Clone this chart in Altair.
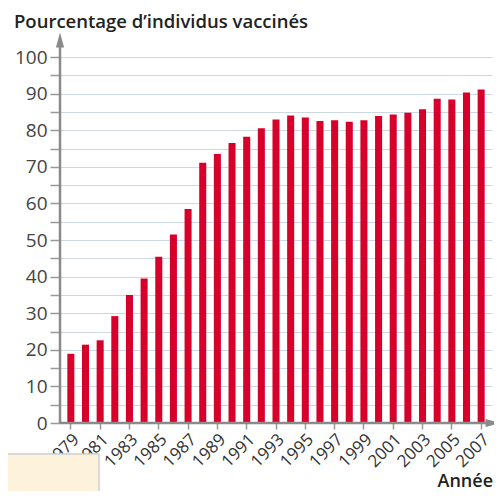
import altair as alt
import pandas as pd

years = list(range(1979, 2008))
values = [18.9, 21.4, 22.6, 29.2, 35.0, 39.5, 45.4, 51.5, 58.5, 71.1,
          73.5, 76.5, 78.2, 80.5, 82.9, 84.0, 83.5, 82.5, 82.7, 82.3,
          82.7, 83.9, 84.3, 84.8, 85.7, 88.6, 88.4, 90.3, 91.1]
x_tick_years = list(range(1979, 2008, 2))
y_ticks = list(range(0, 101, 5))
title_text = "Pourcentage d\u2019individus vaccinés"
x_title_text = "Année"

df = pd.DataFrame({"annee": years, "pct": values})
one = alt.Data(values=[{}])

FONT = "Open Sans"
W, H = 432, 366

bars = alt.Chart(df).mark_bar(color="#d7002b").encode(
    x=alt.X("annee:O",
            scale=alt.Scale(paddingInner=0.52, paddingOuter=0.5),
            axis=alt.Axis(values=x_tick_years, labelAngle=-45, labelAlign="right",
                          labelBaseline="top", labelFontSize=17, labelColor="#333",
                          labelFont=FONT, labelPadding=2, tickSize=6, tickColor="#999",
                          tickWidth=1.5, domain=False, title=None, grid=False,
                          labelOverlap=False)),
    y=alt.Y("pct:Q",
            scale=alt.Scale(domain=[0, 100], nice=False),
            axis=alt.Axis(values=y_ticks,
                          labelExpr="datum.value % 10 == 0 ? datum.label : ''",
                          labelFontSize=19, labelColor="#444", labelFont=FONT,
                          labelPadding=3, tickSize=10, tickColor="#999", tickWidth=1.5,
                          domain=False, grid=True, gridColor="#cdd9e2", gridWidth=1.2,
                          title=None)),
)

y_line = alt.Chart(one).mark_rule(color="#8a8a8a", strokeWidth=2.5).encode(
    x=alt.value(0), y=alt.value(H), y2=alt.value(-12))
y_arrow = alt.Chart(one).mark_point(
    shape="M0,-1L0.55,1L-0.55,1Z", filled=True, opacity=1, color="#8a8a8a", size=220
).encode(x=alt.value(0), y=alt.value(-17))

x_line = alt.Chart(one).mark_rule(color="#8a8a8a", strokeWidth=2.5).encode(
    x=alt.value(0), x2=alt.value(W - 4), y=alt.value(H))
x_arrow = alt.Chart(one).mark_point(
    shape="M1,0L-1,0.55L-1,-0.55Z", filled=True, opacity=1, color="#8a8a8a", size=220
).encode(x=alt.value(W + 1), y=alt.value(H))

title = alt.Chart(one).mark_text(
    text=title_text, align="left", baseline="alphabetic", font=FONT,
    fontSize=18.5, fontWeight=600, color="#222"
).encode(x=alt.value(-46), y=alt.value(-29))

x_title = alt.Chart(one).mark_text(
    text=x_title_text, align="right", baseline="alphabetic", font=FONT,
    fontSize=18, fontWeight=600, color="#222"
).encode(x=alt.value(W + 1), y=alt.value(H + 64))

box = alt.Chart(one).mark_rect(
    color="#fdf3dc", stroke="#cfcfcf", strokeWidth=1.5
).encode(x=alt.value(-60), x2=alt.value(39), y=alt.value(H + 31), y2=alt.value(H + 80))

chart = alt.layer(bars, y_line, y_arrow, x_line, x_arrow, title, x_title, box).properties(
    width=W, height=H,
    padding={"left": 52, "top": 49, "right": 2, "bottom": 68},
    autosize="none",
).configure_view(stroke=None)

chart.save("out.html", embed_options={"renderer": "svg", "actions": False})
